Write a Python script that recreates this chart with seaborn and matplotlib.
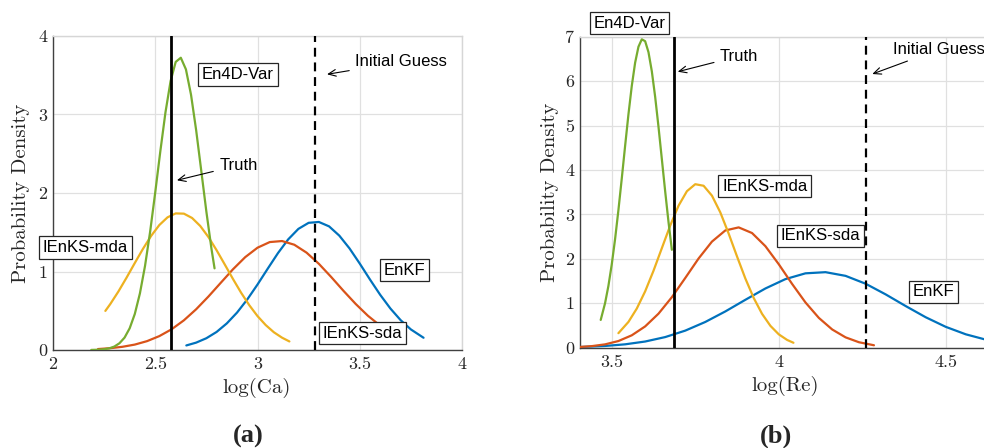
import matplotlib
matplotlib.use('Agg')
import matplotlib.pyplot as plt
import seaborn as sns

# ---------------- data ----------------
# (a) log(Ca)
ca_enkf_x = [2.652, 2.7, 2.75, 2.8, 2.85, 2.9, 2.95, 3, 3.05, 3.1, 3.15, 3.2, 3.25, 3.3, 3.35, 3.4, 3.45, 3.5, 3.55, 3.6, 3.65, 3.7, 3.75, 3.812]
ca_enkf_y = [0.058, 0.094, 0.150, 0.230, 0.339, 0.477, 0.644, 0.834, 1.036, 1.234, 1.409, 1.543, 1.620, 1.631, 1.575, 1.457, 1.294, 1.101, 0.898, 0.703, 0.528, 0.380, 0.262, 0.156]
ca_sda_x = [2.22, 2.28, 2.34, 2.4, 2.46, 2.52, 2.58, 2.64, 2.7, 2.76, 2.82, 2.88, 2.94, 3, 3.06, 3.12, 3.18, 3.24, 3.3, 3.36, 3.42, 3.48, 3.54, 3.6, 3.625]
ca_sda_y = [0.012, 0.023, 0.041, 0.069, 0.113, 0.177, 0.264, 0.378, 0.519, 0.681, 0.855, 1.028, 1.183, 1.303, 1.375, 1.388, 1.341, 1.240, 1.098, 0.931, 0.755, 0.587, 0.436, 0.310, 0.266]
ca_mda_x = [2.256, 2.28, 2.32, 2.36, 2.4, 2.44, 2.48, 2.52, 2.56, 2.6, 2.64, 2.68, 2.72, 2.76, 2.8, 2.84, 2.88, 2.92, 2.96, 3, 3.04, 3.08, 3.12, 3.156]
ca_mda_y = [0.498, 0.585, 0.746, 0.923, 1.108, 1.289, 1.454, 1.592, 1.690, 1.740, 1.737, 1.682, 1.580, 1.439, 1.271, 1.089, 0.905, 0.729, 0.570, 0.432, 0.318, 0.226, 0.157, 0.109]
ca_4dvar_x = [2.187, 2.2, 2.225, 2.25, 2.275, 2.3, 2.325, 2.35, 2.375, 2.4, 2.425, 2.45, 2.475, 2.5, 2.525, 2.55, 2.575, 2.6, 2.625, 2.65, 2.675, 2.7, 2.725, 2.75, 2.775, 2.79]
ca_4dvar_y = [0.001, 0.002, 0.004, 0.010, 0.021, 0.044, 0.086, 0.158, 0.277, 0.459, 0.721, 1.071, 1.507, 2.009, 2.535, 3.028, 3.426, 3.670, 3.723, 3.575, 3.251, 2.800, 2.283, 1.762, 1.288, 1.040]
ca_truth = 2.578
ca_guess = 3.283

# (b) log(Re)
re_enkf_x = [3.405, 3.48, 3.54, 3.6, 3.66, 3.72, 3.78, 3.84, 3.9, 3.96, 4.02, 4.08, 4.14, 4.2, 4.26, 4.32, 4.38, 4.44, 4.5, 4.56, 4.62, 4.68, 4.74, 4.8]
re_enkf_y = [0.015, 0.039, 0.076, 0.139, 0.239, 0.384, 0.579, 0.816, 1.078, 1.333, 1.544, 1.674, 1.700, 1.617, 1.440, 1.200, 0.937, 0.685, 0.469, 0.301, 0.181, 0.102, 0.053, 0.026]
re_sda_x = [3.405, 3.44, 3.48, 3.52, 3.56, 3.6, 3.64, 3.68, 3.72, 3.76, 3.8, 3.84, 3.88, 3.92, 3.96, 4, 4.04, 4.08, 4.12, 4.16, 4.2, 4.24, 4.285]
re_sda_y = [0.017, 0.035, 0.075, 0.150, 0.279, 0.479, 0.766, 1.137, 1.568, 2.008, 2.388, 2.639, 2.708, 2.581, 2.285, 1.879, 1.435, 1.018, 0.671, 0.410, 0.233, 0.123, 0.055]
re_mda_x = [3.52, 3.55, 3.575, 3.6, 3.625, 3.65, 3.675, 3.7, 3.725, 3.75, 3.775, 3.8, 3.825, 3.85, 3.875, 3.9, 3.925, 3.95, 3.975, 4, 4.025, 4.044]
re_mda_y = [0.327, 0.580, 0.881, 1.268, 1.731, 2.240, 2.748, 3.196, 3.522, 3.680, 3.645, 3.422, 3.046, 2.569, 2.055, 1.557, 1.119, 0.762, 0.492, 0.301, 0.175, 0.111]
re_4dvar_x = [3.467, 3.48, 3.49, 3.5, 3.51, 3.52, 3.53, 3.54, 3.55, 3.56, 3.57, 3.58, 3.59, 3.6, 3.61, 3.62, 3.63, 3.64, 3.65, 3.66, 3.67, 3.68]
re_4dvar_y = [0.625, 1.001, 1.389, 1.871, 2.443, 3.096, 3.806, 4.538, 5.250, 5.891, 6.414, 6.774, 6.941, 6.899, 6.652, 6.222, 5.646, 4.971, 4.245, 3.517, 2.826, 2.204]
re_truth = 3.687
re_guess = 4.2605

ca_xticks = [2, 2.5, 3, 3.5, 4]
ca_xticklabels = ['2', '2.5', '3', '3.5', '4']
ca_yticks = [0, 1, 2, 3, 4]
re_xticks = [3.5, 4, 4.5]
re_xticklabels = ['3.5', '4', '4.5']
re_yticks = [0, 1, 2, 3, 4, 5, 6, 7]

# ---------------- style ----------------
sns.set_style('white')
plt.rcParams['font.family'] = ['Liberation Sans', 'DejaVu Sans']
plt.rcParams['axes.formatter.use_mathtext'] = True

C_BLUE = '#0072BD'
C_RED = '#D95319'
C_YEL = '#EDB120'
C_GRN = '#77AC30'
GRID = '#e0e0e0'
AXC = '#404040'
CM = 'cmr10'

fig = plt.figure(figsize=(9.84, 4.48), dpi=100)
axL = fig.add_axes([53 / 984, 98 / 448, 409 / 984, 314 / 448])
axR = fig.add_axes([580 / 984, 100.3 / 448, 466 / 984, 311 / 448])


def style_axes(ax, xlim, ylim, xticks, xticklabels, yticks):
    ax.set_xlim(*xlim)
    ax.set_ylim(*ylim)
    ax.set_xticks(xticks)
    ax.set_xticklabels(xticklabels, fontfamily=CM, fontsize=13)
    ax.set_yticks(yticks)
    ax.set_yticklabels([str(v) for v in yticks], fontfamily=CM, fontsize=13)
    ax.grid(True, color=GRID, lw=0.9)
    ax.set_axisbelow(True)
    for s in ['left', 'bottom']:
        ax.spines[s].set_color(AXC)
        ax.spines[s].set_linewidth(1.0)
    for s in ['top', 'right']:
        ax.spines[s].set_color('#d6d6d6')
        ax.spines[s].set_linewidth(1.0)
    ax.tick_params(axis='both', direction='in', length=4, width=0.8,
                   color=AXC, labelcolor='#262626')
    ax.tick_params(axis='x', pad=5)
    ax.tick_params(axis='y', pad=4)


def curve(ax, x, y, c):
    sns.lineplot(x=x, y=y, ax=ax, color=c, lw=1.6, sort=False,
                 estimator=None, zorder=3, solid_joinstyle='round')


def box(ax, x, y, s):
    ax.text(x, y, s, ha='center', va='center', fontsize=12, color='black',
            bbox=dict(boxstyle='square,pad=0.22', fc='white', ec='#262626', lw=0.9),
            zorder=6, clip_on=False)


def arrow_label(ax, s, tip, txt):
    ax.annotate(s, xy=tip, xytext=txt, ha='left', va='center', fontsize=12,
                color='black', zorder=6, annotation_clip=False,
                arrowprops=dict(arrowstyle='->,head_length=0.45,head_width=0.2',
                                color='black', lw=0.8, shrinkA=2, shrinkB=0))


# ---- (a)
curve(axL, ca_enkf_x, ca_enkf_y, C_BLUE)
curve(axL, ca_sda_x, ca_sda_y, C_RED)
curve(axL, ca_mda_x, ca_mda_y, C_YEL)
curve(axL, ca_4dvar_x, ca_4dvar_y, C_GRN)
axL.axvline(ca_truth, color='black', lw=2.0, zorder=4)
axL.axvline(ca_guess, color='black', lw=1.6, ls=(0, (4, 2.6)), zorder=4)
style_axes(axL, (2, 4), (0, 4), ca_xticks, ca_xticklabels, ca_yticks)
box(axL, 2.904, 3.51, 'En4D-Var')
box(axL, 2.159, 1.306, 'IEnKS-mda')
box(axL, 3.720, 1.015, 'EnKF')
box(axL, 3.513, 0.213, 'IEnKS-sda')
arrow_label(axL, 'Truth', (2.606, 2.162), (2.813, 2.353))
arrow_label(axL, 'Initial Guess', (3.340, 3.512), (3.478, 3.669))
axL.set_xlabel('log(Ca)', fontfamily=CM, fontsize=15, color='#262626')
axL.set_ylabel('Probability Density', fontfamily=CM, fontsize=15, color='#262626')
axL.xaxis.set_label_coords(0.498, -0.088)
axL.yaxis.set_label_coords(-0.056, 0.5)

# ---- (b)
curve(axR, re_enkf_x, re_enkf_y, C_BLUE)
curve(axR, re_sda_x, re_sda_y, C_RED)
curve(axR, re_mda_x, re_mda_y, C_YEL)
curve(axR, re_4dvar_x, re_4dvar_y, C_GRN)
axR.axvline(re_truth, color='black', lw=2.0, zorder=4)
axR.axvline(re_guess, color='black', lw=1.6, ls=(0, (4, 2.6)), zorder=4)
style_axes(axR, (3.405, 4.8), (0, 7), re_xticks, re_xticklabels, re_yticks)
box(axR, 3.554, 7.308, 'En4D-Var')
box(axR, 3.958, 3.635, 'IEnKS-mda')
box(axR, 4.124, 2.519, 'IEnKS-sda')
box(axR, 4.464, 1.260, 'EnKF')
arrow_label(axR, 'Truth', (3.6976, 6.212), (3.824, 6.565))
arrow_label(axR, 'Initial Guess', (4.280, 6.160), (4.343, 6.716))
axR.set_xlabel('log(Re)', fontfamily=CM, fontsize=15, color='#262626')
axR.set_ylabel('Probability Density', fontfamily=CM, fontsize=15, color='#262626')
axR.xaxis.set_label_coords((785 - 580) / 466, -0.09)
axR.yaxis.set_label_coords(-0.044, 0.5)

fig.text(248 / 984, 1 - 436 / 448, '(a)', fontfamily='Liberation Serif',
         fontweight='bold', fontsize=19, ha='center', va='center')
fig.text(776 / 984, 1 - 436 / 448, '(b)', fontfamily='Liberation Serif',
         fontweight='bold', fontsize=19, ha='center', va='center')

fig.savefig('out.png', dpi=100)
